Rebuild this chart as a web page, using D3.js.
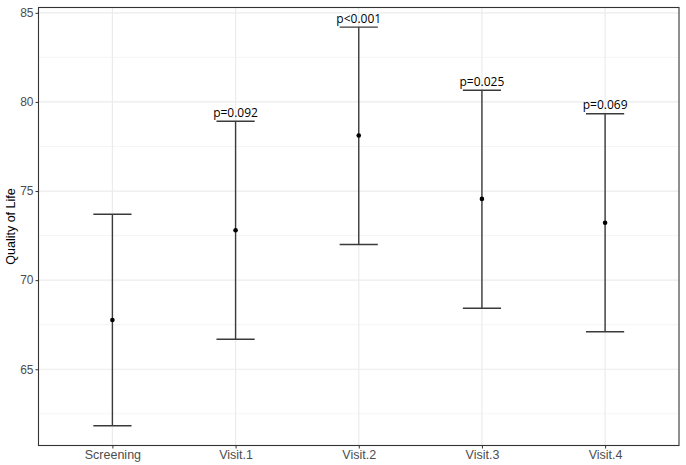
<!DOCTYPE html>
<html>
<head>
<meta charset="utf-8">
<script src="https://cdn.jsdelivr.net/npm/d3@7"></script>
<style>
  html, body { margin: 0; padding: 0; background: #fff; }
  svg { display: block; }
</style>
</head>
<body>
<svg id="chart" width="686" height="465"></svg>
<script>
const categories = ["Screening", "Visit.1", "Visit.2", "Visit.3", "Visit.4"];
const means  = [67.76, 72.80, 78.12, 74.56, 73.22];
const lowers = [61.83, 66.68, 72.00, 68.42, 67.10];
const uppers = [73.70, 78.92, 84.20, 80.66, 79.34];
const pLabels = ["", "p=0.092", "p<0.001", "p=0.025", "p=0.069"];
const yTicks = [65, 70, 75, 80, 85];
const yMinor = [62.5, 67.5, 72.5, 77.5, 82.5];
const yTitle = "Quality of Life";

(function () {
const svg = d3.select("#chart");
const pL = 38.5, pR = 679, pT = 7.5, pB = 445.5;

const x = d3.scalePoint().domain(categories).range([pL, pR]).padding(0.6);
const y = d3.scaleLinear().domain([60.72, 85.3]).range([pB, pT]);
const step = x.step();
const capHalf = step * 0.155;

// grid
const g = svg.append("g");
g.selectAll(".minor").data(yMinor).enter().append("line")
  .attr("x1", pL).attr("x2", pR)
  .attr("y1", d => y(d)).attr("y2", d => y(d))
  .attr("stroke", "#f3f3f3").attr("stroke-width", 0.8);
g.selectAll(".major").data(yTicks).enter().append("line")
  .attr("x1", pL).attr("x2", pR)
  .attr("y1", d => y(d)).attr("y2", d => y(d))
  .attr("stroke", "#ebebeb").attr("stroke-width", 1.2);
g.selectAll(".vmajor").data(categories).enter().append("line")
  .attr("x1", d => x(d)).attr("x2", d => x(d))
  .attr("y1", pT).attr("y2", pB)
  .attr("stroke", "#ebebeb").attr("stroke-width", 1.2);

// error bars
const data = categories.map((c, i) => ({c, m: means[i], lo: lowers[i], hi: uppers[i], p: pLabels[i]}));
const eb = svg.append("g").attr("stroke", "#3a3a3a").attr("stroke-width", 1.4);
eb.selectAll(".v").data(data).enter().append("line")
  .attr("x1", d => x(d.c)).attr("x2", d => x(d.c))
  .attr("y1", d => y(d.lo)).attr("y2", d => y(d.hi));
eb.selectAll(".t").data(data).enter().append("line")
  .attr("x1", d => x(d.c) - capHalf).attr("x2", d => x(d.c) + capHalf)
  .attr("y1", d => y(d.hi)).attr("y2", d => y(d.hi));
eb.selectAll(".b").data(data).enter().append("line")
  .attr("x1", d => x(d.c) - capHalf).attr("x2", d => x(d.c) + capHalf)
  .attr("y1", d => y(d.lo)).attr("y2", d => y(d.lo));

svg.append("g").selectAll("circle").data(data).enter().append("circle")
  .attr("cx", d => x(d.c)).attr("cy", d => y(d.m)).attr("r", 2.3).attr("fill", "#000");

svg.append("g").selectAll("text").data(data.filter(d => d.p)).enter().append("text")
  .attr("x", d => x(d.c)).attr("y", d => y(d.hi) - 4.5)
  .attr("text-anchor", "middle")
  .attr("font-family", "'Open Sans', sans-serif").attr("font-size", 12)
  .attr("fill", "#000").text(d => d.p);

// axes
const yAxis = d3.axisLeft(y).tickValues(yTicks).tickSize(3).tickPadding(2);
const ya = svg.append("g").attr("transform", `translate(${pL},0)`).call(yAxis);
ya.select(".domain").remove();
ya.selectAll("line").attr("stroke", "#333");
ya.selectAll("text").attr("font-family", "'Liberation Sans', Arial, sans-serif")
  .attr("font-size", 12).attr("fill", "#4d4d4d");

const xAxis = d3.axisBottom(x).tickSize(3).tickPadding(2);
const xa = svg.append("g").attr("transform", `translate(0,${pB})`).call(xAxis);
xa.select(".domain").remove();
xa.selectAll("line").attr("stroke", "#333");
xa.selectAll("text").attr("font-family", "'Liberation Sans', Arial, sans-serif")
  .attr("font-size", 12.5).attr("fill", "#4d4d4d");

// panel border
svg.append("rect").attr("x", pL).attr("y", pT)
  .attr("width", pR - pL).attr("height", pB - pT)
  .attr("fill", "none").attr("stroke", "#333").attr("stroke-width", 1.1);

svg.append("text")
  .attr("transform", `translate(15,${(pT + pB) / 2}) rotate(-90)`)
  .attr("text-anchor", "middle")
  .attr("font-family", "'Liberation Sans', Arial, sans-serif").attr("font-size", 12.5)
  .attr("fill", "#000").text(yTitle);
})();
</script>
</body>
</html>
